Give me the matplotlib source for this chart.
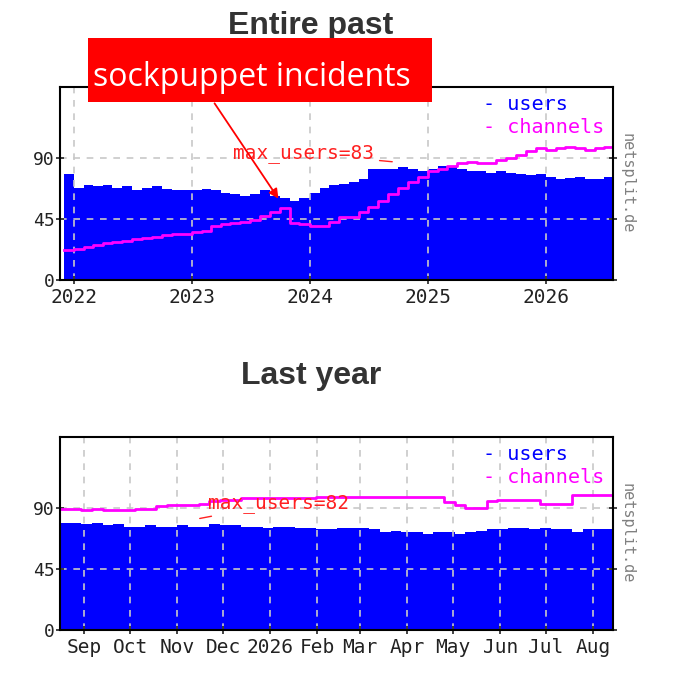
import matplotlib
matplotlib.use("Agg")
import matplotlib.pyplot as plt
import pandas as pd

# ---- data: entire past (monthly, from Dec 2021) ----
top_users = [78,
 68,70,69,70,68,69,66,68,69,67,66,66,
 66,67,66,64,63,62,63,66,62,60,58,60,
 64,68,70,71,72,74,82,82,82,83,82,80,
 82,84,84,82,80,80,79,80,79,78,77,78,
 76,74,75,76,74,74,76]
top_channels = [22,
 23,24,26,27,28,29,30,31,32,33,34,34,
 35,36,40,41,42,43,44,47,50,53,42,41,
 40,40,43,46,46,50,54,58,63,68,72,76,
 80,82,84,86,87,86,86,88,90,92,95,97,
 96,97,98,97,96,97,98]
# ---- data: last year (weekly, from mid Aug 2025) ----
yr_users = [79,79,78,79,77,78,76,76,77,76,76,77,76,76,78,77,77,76,76,75,76,76,75,75,74,74,
 75,75,75,74,72,73,72,72,71,72,72,71,72,73,74,74,75,75,74,75,74,74,72,74,74,74]
yr_channels = [89,89,88,89,88,88,88,89,89,91,92,92,92,93,95,96,96,97,97,97,97,97,97,97,98,98,
 98,98,98,98,98,98,98,98,98,98,94,92,90,90,95,96,96,96,96,93,93,93,99,99,99,99]
top_ticks = ["2022", "2023", "2024", "2025", "2026"]
yr_ticks = ["Sep","Oct","Nov","Dec","2026","Feb","Mar","Apr","May","Jun","Jul","Aug"]
yticks = [0, 45, 90]

top_dates = pd.date_range("2021-12-01", periods=len(top_users), freq="MS")
yr_dates = pd.date_range("2025-08-16", periods=len(yr_users), freq="7D")

W, H = 680, 679
fig = plt.figure(figsize=(W/100, H/100), dpi=100)
mono = "DejaVu Sans Mono"

def panel(y_bottom_px, dates, users, chans, xmin, xmax, tickpos, ticklabels, maxlabel, maxpos, title, ty):
    ax = fig.add_axes([60/W, (H-y_bottom_px)/H, 553/W, 193/H])
    d = list(dates) + [pd.Timestamp(xmax)]
    u = list(users) + [users[-1]]
    c = list(chans) + [chans[-1]]
    ax.fill_between(d, u, step="post", color="#0000ff", lw=0, zorder=1)
    ax.step(d, c, where="post", color="#ff00ff", lw=2, zorder=2)
    ax.set_xlim(pd.Timestamp(xmin), pd.Timestamp(xmax))
    ax.set_ylim(0, 142)
    for t in tickpos:
        ax.axvline(pd.Timestamp(t), color="#c8c8c8", ls=(0, (4, 4)), lw=1.2, zorder=1.5)
    for y in [45, 90]:
        ax.axhline(y, color="#c8c8c8", ls=(0, (4, 4)), lw=1.2, zorder=1.5)
    ax.set_xticks([pd.Timestamp(t) for t in tickpos])
    ax.set_xticklabels(ticklabels, fontfamily=mono, fontsize=14)
    ax.set_yticks(yticks)
    ax.set_yticklabels([str(v) for v in yticks], fontfamily=mono, fontsize=13)
    ax.tick_params(direction="inout", length=6, width=1.2, colors="#222222")
    ax.tick_params(axis="x", pad=3)
    ax.tick_params(axis="y", pad=1, right=True)
    for s in ax.spines.values():
        s.set_linewidth(1.5)
    ax.text(0.765, 0.88, "- users", color="#0000ff", transform=ax.transAxes, fontfamily=mono, fontsize=14.5)
    ax.text(0.765, 0.76, "- channels", color="#ff00ff", transform=ax.transAxes, fontfamily=mono, fontsize=14.5)
    ax.text(1.025, 0.5, "netsplit.de", color="#808080", rotation=270, transform=ax.transAxes,
            fontfamily=mono, fontsize=11, va="center", ha="center")
    ax.annotate(maxlabel, xy=maxpos[0], xytext=maxpos[1], xycoords="axes fraction",
                textcoords="axes fraction", color="#ff2020", fontfamily=mono, fontsize=14,
                arrowprops=dict(arrowstyle="-", color="#ff2020", lw=1))
    fig.text(311/W, 1-ty/H, title, ha="center", va="center", fontsize=23, fontweight="bold",
             color="#333333", fontfamily="Liberation Sans")
    return ax

ax1 = panel(280, top_dates, top_users, top_channels, "2021-11-20", "2026-07-28",
            ["2022-01-01","2023-01-01","2024-01-01","2025-01-01","2026-01-01"], top_ticks,
            "max_users=83", ((335/553, 1-(162-87)/193), (173/553, 1-(158-87)/193)), "Entire past", 26)
ax2 = panel(630, yr_dates, yr_users, yr_channels, "2025-08-16", "2026-08-14",
            ["2025-09-01","2025-10-01","2025-11-01","2025-12-01","2026-01-01","2026-02-01",
             "2026-03-01","2026-04-01","2026-05-01","2026-06-01","2026-07-01","2026-08-01"], yr_ticks,
            "max_users=82", ((137/553, 1-(519-437)/193), (148/553, 1-(508-437)/193)), "Last year", 376)

# red callout box
fig.patches.append(matplotlib.patches.Rectangle((88/W, 1-102/H), 344/W, 64/H, transform=fig.transFigure,
                   facecolor="#ff0000", edgecolor="none", zorder=5))
fig.text(93/W, 1-77/H, "sockpuppet incidents", color="white", fontsize=23, fontfamily="Open Sans",
         va="center", ha="left", zorder=6)
fig.add_artist(matplotlib.patches.FancyArrowPatch((213/W, 1-101/H), (280/W, 1-201/H),
               transform=fig.transFigure, arrowstyle="-|>", mutation_scale=14, color="#ff0000", lw=1.3, zorder=6))

fig.savefig("out.png", dpi=100)
